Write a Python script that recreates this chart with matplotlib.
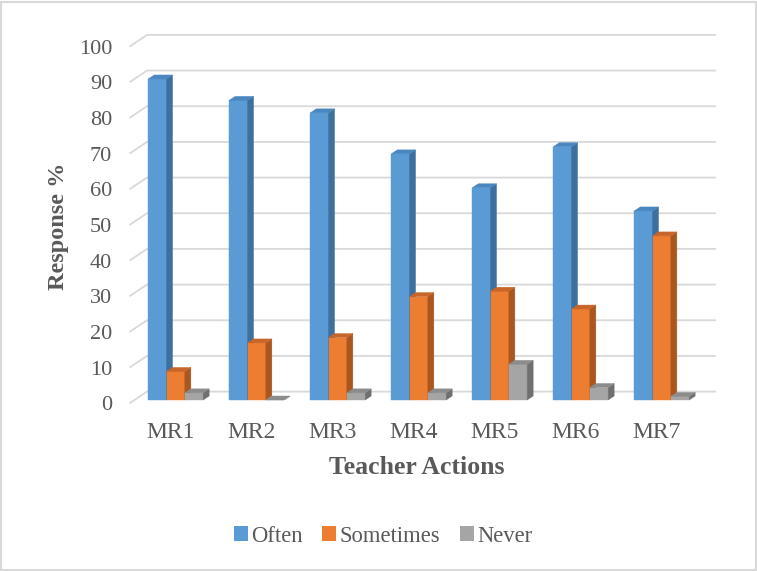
import matplotlib
matplotlib.use("Agg")
import matplotlib.pyplot as plt
from matplotlib.patches import Polygon, Rectangle, Patch

# ---- data ----
categories = ["MR1", "MR2", "MR3", "MR4", "MR5", "MR6", "MR7"]
often = [90, 84, 80.5, 69, 59.5, 71, 53]
sometimes = [8, 16, 17.5, 29, 30.5, 25.5, 46]
never = [2, 0, 2, 2, 10, 3.5, 1]
series_names = ["Often", "Sometimes", "Never"]
y_ticks = list(range(0, 101, 10))

# face colours: front, side, top
palette = {
    "Often": ("#5B9BD5", "#3F6F9C", "#4A86BF"),
    "Sometimes": ("#ED7D31", "#A9561F", "#C8662A"),
    "Never": ("#A5A5A5", "#6F6F6F", "#8C8C8C"),
}

W, H, DPI = 757, 571, 100
fig = plt.figure(figsize=(W / DPI, H / DPI), dpi=DPI)
plt.rcParams["font.family"] = ["Liberation Serif", "DejaVu Serif"]

# pixel geometry of the drawing
x0_px, px_per_cat = 175.7, 81.0      # centre of first group, spacing
y0_px, px_per_val = 400.0, 3.567     # baseline of bar fronts, px per unit

ax = fig.add_axes([0, 0, 1, 1])
ax.set_xlim(-x0_px / px_per_cat, (W - x0_px) / px_per_cat)
ax.set_ylim((y0_px - H) / px_per_val, y0_px / px_per_val)
ax.axis("off")


def dx(px):
    return px / px_per_cat


def dy(px):
    # px measured upward
    return px / px_per_val


# ---- walls / gridlines (oblique 3D look) ----
grid_col = "#D9D9D9"
wall_front = (dx(-5.0), dy(-3.3))
wall_back = (dx(12.5), dy(8.4))
left_x = dx(129.5 - x0_px)
right_x = dx(716 - x0_px)
for v in y_ticks:
    xs = [left_x, left_x + dx(17.5), right_x]
    ys = [v + wall_front[1], v + wall_back[1], v + wall_back[1]]
    ax.plot(xs, ys, color=grid_col, lw=1.3, solid_capstyle="butt", zorder=1)
    ax.text(dx(112 - x0_px), v + wall_front[1] - dy(2.5), str(v),
            ha="right", va="center", fontsize=16, color="#595959")

# ---- bars ----
bar_w = dx(18.3)
depth_x, depth_y = dx(6.0), dy(4.0)
series_vals = [often, sometimes, never]
offsets = [-bar_w, 0.0, bar_w]

for i in range(len(categories)):
    for name, vals, off in zip(series_names, series_vals, offsets):
        front, side, top = palette[name]
        xl = i + off - bar_w / 2
        xr = xl + bar_w
        v = vals[i]
        ax.bar(xl, v, width=bar_w, align="edge", color=front,
               edgecolor=front, linewidth=0.3, zorder=3)
        ax.add_patch(Polygon([(xr, 0), (xr + depth_x, depth_y),
                              (xr + depth_x, v + depth_y), (xr, v)],
                             closed=True, facecolor=side, edgecolor=side,
                             linewidth=0.3, zorder=3))
        ax.add_patch(Polygon([(xl, v), (xr, v), (xr + depth_x, v + depth_y),
                              (xl + depth_x, v + depth_y)],
                             closed=True, facecolor=top, edgecolor=top,
                             linewidth=0.3, zorder=3))

# ---- category labels and axis titles ----
for i, c in enumerate(categories):
    ax.text(i + dx(-4.7), dy(400 - 432.5), c, ha="center", va="center",
            fontsize=17, color="#595959")

ax.text(dx(417 - x0_px), dy(400 - 468), "Teacher Actions", ha="center",
        va="center", fontsize=18.5, fontweight="bold", color="#595959")
ax.text(dx(58 - x0_px), dy(400 - 226), "Response %", ha="center",
        va="center", rotation=90, fontsize=17.5, fontweight="bold",
        color="#595959")

# ---- legend ----
handles = [Patch(facecolor=palette[n][0], edgecolor="none") for n in series_names]
leg = fig.legend(handles, series_names, loc="center", ncol=3,
                 bbox_to_anchor=(383 / W, 1 - 536 / H), frameon=False,
                 handlelength=0.62, handleheight=0.6, handletextpad=0.15,
                 columnspacing=0.85, fontsize=16.3)
for t in leg.get_texts():
    t.set_color("#595959")

# ---- chart border ----
fig.add_artist(Rectangle((1 / W, 1 / H), (W - 2.5) / W, (H - 2.5) / H,
                         transform=fig.transFigure, fill=False,
                         edgecolor="#D9D9D9", linewidth=1.5))

fig.savefig("out.png", dpi=DPI)
